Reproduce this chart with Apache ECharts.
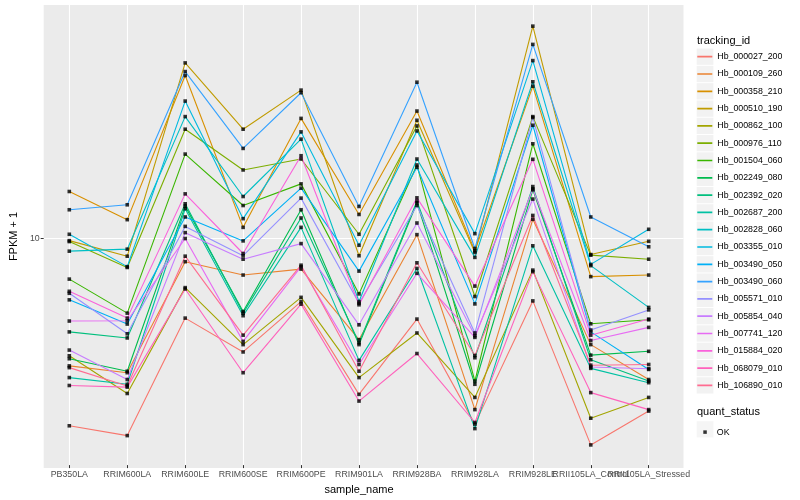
<!DOCTYPE html>
<html><head><meta charset="utf-8">
<script src="https://cdn.jsdelivr.net/npm/echarts@6/dist/echarts.min.js"></script>
<style>html,body{margin:0;padding:0;background:#fff}#c{width:800px;height:500px}</style>
</head><body><div id="c"></div>
<script>
const categories = ['PB350LA','RRIM600LA','RRIM600LE','RRIM600SE','RRIM600PE','RRIM901LA','RRIM928BA','RRIM928LA','RRIM928LE','RRII105LA_Control','RRII105LA_Stressed'];
const trackingIds = ['Hb_000027_200','Hb_000109_260','Hb_000358_210','Hb_000510_190','Hb_000862_100','Hb_000976_110','Hb_001504_060','Hb_002249_080','Hb_002392_020','Hb_002687_200','Hb_002828_060','Hb_003355_010','Hb_003490_050','Hb_003490_060','Hb_005571_010','Hb_005854_040','Hb_007741_120','Hb_015884_020','Hb_068079_010','Hb_106890_010'];

const hb_000027_200 = [2.33, 2.16, 5.35, 4.12, 6.08, 2.97, 5.31, 2.36, 6.11, 2.01, 2.61];
const hb_000109_260 = [3.70, 3.51, 8.27, 7.46, 7.81, 4.53, 10.19, 2.64, 11.47, 4.36, 3.33];
const hb_000358_210 = [14.22, 11.44, 34.8, 10.78, 25.0, 11.91, 26.46, 8.99, 32.06, 7.37, 7.46];
const hb_000510_190 = [9.73, 8.63, 38.37, 23.0, 31.1, 8.66, 24.64, 8.88, 50.96, 8.74, 9.68];
const hb_000862_100 = [4.00, 2.99, 6.77, 4.36, 6.28, 3.38, 4.77, 2.90, 7.75, 2.47, 2.90];
const hb_000976_110 = [9.66, 7.91, 23.0, 16.79, 18.27, 10.22, 23.59, 6.32, 25.35, 8.70, 8.43];
const hb_001504_060 = [7.23, 5.56, 18.98, 12.76, 15.08, 6.45, 17.45, 3.29, 20.55, 5.12, 5.28];
const hb_002249_080 = [3.91, 3.55, 12.70, 5.63, 12.35, 4.36, 13.03, 3.21, 14.40, 4.02, 4.14];
const hb_002392_020 = [4.81, 4.59, 12.93, 5.56, 11.59, 4.42, 13.2, 3.94, 14.77, 3.88, 3.29];
const hb_002687_200 = [3.38, 3.21, 12.45, 5.45, 10.78, 3.86, 7.85, 2.28, 9.35, 3.63, 3.25];
const hb_002828_060 = [8.97, 9.11, 25.35, 13.68, 21.3, 6.08, 18.27, 8.55, 33.17, 8.02, 5.81];
const hb_003355_010 = [10.22, 7.96, 28.58, 11.53, 22.53, 9.39, 22.7, 10.27, 39.06, 8.10, 10.62];
const hb_003490_050 = [6.16, 5.11, 11.68, 9.71, 14.59, 7.69, 17.14, 5.97, 23.71, 4.81, 3.60];
const hb_003490_060 = [12.35, 12.83, 35.89, 19.83, 30.48, 12.67, 33.06, 9.16, 44.26, 11.68, 9.28];
const hb_005571_010 = [6.48, 4.74, 10.86, 8.66, 13.51, 6.00, 12.76, 4.77, 25.16, 4.88, 5.70];
const hb_005854_040 = [4.18, 3.33, 10.35, 8.43, 9.51, 5.08, 11.15, 4.67, 13.41, 3.67, 3.62];
const hb_007741_120 = [5.23, 5.24, 9.89, 4.47, 7.96, 3.74, 7.56, 4.61, 14.51, 4.50, 4.98];
const hb_015884_020 = [6.58, 5.35, 13.96, 8.81, 18.74, 5.93, 13.54, 6.85, 18.23, 4.69, 5.31];
const hb_068079_010 = [3.18, 3.14, 6.70, 3.51, 5.96, 2.82, 4.07, 2.39, 7.66, 3.01, 2.64];
const hb_106890_010 = [3.65, 3.17, 8.63, 4.69, 8.05, 3.55, 8.20, 4.01, 11.82, 3.72, 3.74];

const yTicks = [10];
const yMin = 1.72, yMax = 60;

const seriesValues = [hb_000027_200, hb_000109_260, hb_000358_210, hb_000510_190, hb_000862_100, hb_000976_110, hb_001504_060, hb_002249_080, hb_002392_020, hb_002687_200, hb_002828_060, hb_003355_010, hb_003490_050, hb_003490_060, hb_005571_010, hb_005854_040, hb_007741_120, hb_015884_020, hb_068079_010, hb_106890_010];
const palette = ['#F8766D','#EA8331','#D89000','#C09B00','#A3A500','#7CAE00','#39B600','#00BB4E','#00BF7D','#00C1A3','#00BFC4','#00BAE0','#00B0F6','#35A2FF','#9590FF','#C77CFF','#E76BF3','#FA62DB','#FF62BC','#FF6C91'];

const FONT = 'Liberation Sans, Arial, Helvetica, sans-serif';
const chart = echarts.init(document.getElementById('c'), null, {renderer: 'canvas'});

const lineSeries = trackingIds.map((name, i) => ({
  name: name, type: 'line', xAxisIndex: 1, yAxisIndex: 1,
  data: seriesValues[i], symbol: 'none', showSymbol: false,
  color: palette[i], lineStyle: {width: 1.1, color: palette[i]},
  clip: false, silent: true, z: 2
}));
const points = [];
seriesValues.forEach(arr => arr.forEach((v, j) => points.push([j, v])));

const keyLineIcon = 'path://M0,0h0.01v0.01h-0.01z M0,7.3h15v1.7h-15z M14.99,16.29h0.01v0.01h-0.01z';

const option = {
  animation: false,
  backgroundColor: '#ffffff',
  textStyle: {fontFamily: FONT},
  grid: [
    {left: 34.5, top: 5, width: 649, height: 463, show: true, backgroundColor: '#EBEBEB', borderWidth: 0, containLabel: false},
    {left: 69.3, top: 5, width: 579.4, height: 463, containLabel: false}
  ],
  xAxis: [
    {gridIndex: 0, type: 'value', min: 0, max: 1, show: false},
    {gridIndex: 1, type: 'category', data: categories, boundaryGap: false,
     axisLine: {show: false},
     axisTick: {show: true, length: 3, alignWithLabel: true, lineStyle: {color: '#333333', width: 1}},
     axisLabel: {interval: 0, hideOverlap: false, fontSize: 8.8, color: '#4D4D4D', margin: 5, fontFamily: FONT},
     splitLine: {show: true, interval: 0, lineStyle: {color: '#ffffff', width: 1.1}},
     name: 'sample_name', nameLocation: 'middle', nameGap: 15,
     nameTextStyle: {fontSize: 11, color: '#000000', fontFamily: FONT}}
  ],
  yAxis: [
    {gridIndex: 0, type: 'log', min: yMin, max: yMax,
     axisLine: {show: false},
     axisTick: {show: true, length: 3, customValues: yTicks, lineStyle: {color: '#333333', width: 1}},
     axisLabel: {customValues: yTicks, showMinLabel: false, showMaxLabel: false, fontSize: 8.8, color: '#4D4D4D', margin: 4, fontFamily: FONT,
       formatter: v => (Math.abs(v - 10) < 1e-6 ? '10' : '')},
     splitLine: {show: true, lineStyle: {color: '#ffffff', width: 1.1}},
     name: 'FPKM + 1', nameLocation: 'middle', nameGap: 17, nameRotate: 90,
     nameTextStyle: {fontSize: 11, color: '#000000', fontFamily: FONT}},
    {gridIndex: 1, type: 'log', min: yMin, max: yMax, show: false, splitLine: {show: false}}
  ],
  legend: [
    {data: trackingIds, orient: 'vertical', left: 696.7, top: 48.55, padding: 0,
     itemWidth: 16.7, itemHeight: 16.3, itemGap: 1, icon: 'rect', selectedMode: false,
     itemStyle: {color: '#F2F2F2'}, textStyle: {color: 'rgba(0,0,0,0)', fontSize: 8.8, fontFamily: FONT}, z: 2},
    {data: trackingIds, orient: 'vertical', left: 697.3, top: 48.55, padding: 0,
     itemWidth: 15, itemHeight: 16.3, itemGap: 1, icon: keyLineIcon, selectedMode: false,
     textStyle: {color: '#000000', fontSize: 8.8, fontFamily: FONT}, z: 3},
    {data: ['OK'], orient: 'vertical', left: 696.7, top: 421.15, padding: 0,
     itemWidth: 16.7, itemHeight: 16.3, icon: 'rect', selectedMode: false,
     itemStyle: {color: '#F2F2F2'}, textStyle: {color: 'rgba(0,0,0,0)', fontSize: 8.8, fontFamily: FONT}, z: 2},
    {data: ['OK'], orient: 'vertical', left: 703.3, top: 427.6, padding: 0,
     itemWidth: 3.5, itemHeight: 3.5, icon: 'rect', selectedMode: false,
     textStyle: {color: '#000000', fontSize: 8.8, fontFamily: FONT, padding: [0, 0, 0, 5]}, z: 3}
  ],
  graphic: [
    {type: 'text', x: 697, y: 40.7, style: {text: 'tracking_id', fontSize: 11, fontFamily: FONT, fill: '#000', verticalAlign: 'middle', align: 'left'}},
    {type: 'text', x: 697, y: 412.3, style: {text: 'quant_status', fontSize: 11, fontFamily: FONT, fill: '#000', verticalAlign: 'middle', align: 'left'}}
  ],
  series: lineSeries.concat([{
    name: 'OK', type: 'scatter', xAxisIndex: 1, yAxisIndex: 1, data: points,
    symbol: 'rect', symbolSize: 3.6, itemStyle: {color: '#000000'}, clip: false, silent: true, z: 5
  }])
};
chart.setOption(option);
</script></body></html>
